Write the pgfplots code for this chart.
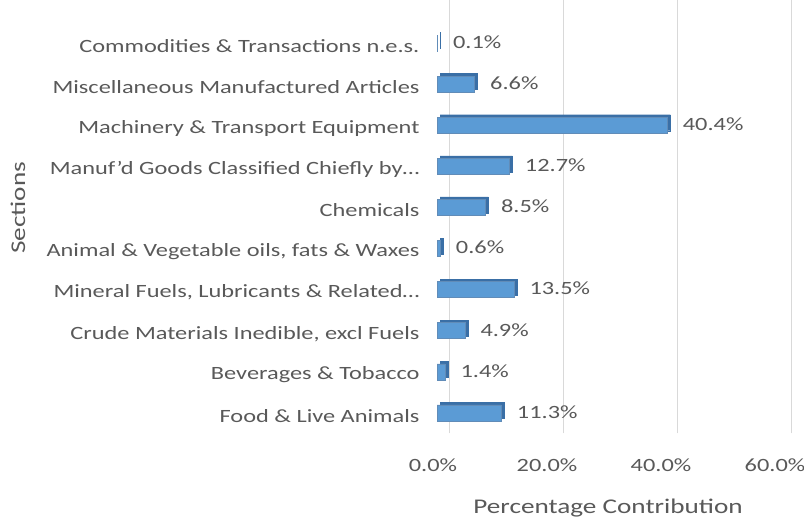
\documentclass[border=0pt]{standalone}
\usepackage{pgfplots}
\pgfplotsset{compat=1.18}
\usepackage{fontspec}
\setmainfont{Carlito}[FakeStretch=1.3]
\definecolor{barblue}{HTML}{5B9BD5}
\definecolor{bardark}{HTML}{3A6FA6}
\definecolor{txt}{HTML}{595959}
\definecolor{gridc}{HTML}{D9D9D9}
\pgfplotstableread{
pos val
0 11.3
1 1.4
2 4.9
3 13.5
4 0.6
5 8.5
6 12.7
7 40.4
8 6.6
9 0.1
}\datatable
\begin{document}
\begin{tikzpicture}[x=1bp,y=1bp]
\useasboundingbox (0,0) rectangle (804,522);
\begin{axis}[
  at={(437bp,88.5bp)}, anchor=south west,
  scale only axis, width=342bp, height=433.6bp,
  xbar, bar width=16bp,
  xmin=0, xmax=60, ymin=-0.5, ymax=10.05,
  axis line style={draw=none},
  major tick length=0pt,
  xmajorgrids, grid style={gridc, line width=0.8bp, xshift=12bp},
  xtick={0,20,40,60},
  xticklabel={\pgfmathprintnumber[fixed,fixed zerofill,precision=1]{\tick}\%},
  /pgf/number format/assume math mode=true,
  ytick={0,...,9},
  yticklabels={Food \& Live Animals, Beverages \& Tobacco, {Crude Materials Inedible, excl Fuels}, {Mineral Fuels, Lubricants \& Related\ldots}, {Animal \& Vegetable oils, fats \& Waxes}, Chemicals, {Manuf'd Goods Classified Chiefly by\ldots}, Machinery \& Transport Equipment, Miscellaneous Manufactured Articles, Commodities \& Transactions n.e.s.},
  tick label style={font=\fontsize{18.8}{22}\selectfont, text=txt},
  yticklabel style={xshift=-14bp, yshift=-3bp},
  xticklabel style={yshift=-22bp, xshift=-4bp},
  label style={font=\fontsize{21}{24}\selectfont, text=txt},
  xlabel={Percentage Contribution},
  xlabel style={at={(axis description cs:0.5,0)}, anchor=north, yshift=-62bp},
  ylabel={Sections},
  ylabel style={at={(axis description cs:-1.225,0.52)}, anchor=center},
  clip=false,
]
\addplot[fill=bardark, draw=bardark, bar shift=2.5bp, xshift=3bp] table[x=val,y=pos]{\datatable};
\addplot[fill=barblue, draw=bardark!80, line width=0.5bp, bar shift=0bp,
  nodes near coords={\pgfmathprintnumber[fixed,fixed zerofill,precision=1]{\pgfplotspointmeta}\%},
  nodes near coords align=horizontal,
  every node near coord/.append style={xshift=12bp, yshift=1bp, text=txt, font=\fontsize{18.8}{22}\selectfont, /pgf/number format/assume math mode=true}
] table[x=val,y=pos]{\datatable};
\end{axis}
\end{tikzpicture}
\end{document}
